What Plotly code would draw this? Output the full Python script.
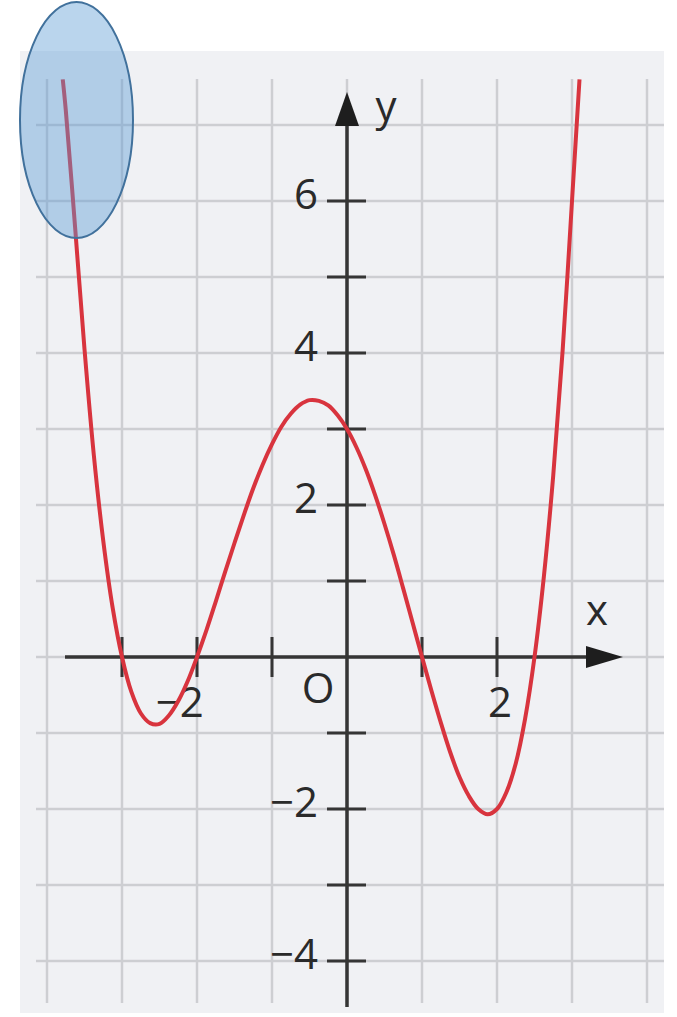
import plotly.graph_objects as go

# Curve samples (x, f(x))
curve_x = [-3.79, -3.75, -3.625, -3.5, -3.375, -3.25, -3.125, -3.0, -2.875, -2.75, -2.625,
           -2.5, -2.375, -2.25, -2.125, -2.0, -1.875, -1.75, -1.625, -1.5, -1.375, -1.25,
           -1.125, -1.0, -0.875, -0.75, -0.625, -0.5, -0.375, -0.25, -0.125, 0.0, 0.125,
           0.25, 0.375, 0.5, 0.625, 0.75, 0.875, 1.0, 1.125, 1.25, 1.375, 1.5, 1.625,
           1.75, 1.875, 2.0, 2.125, 2.25, 2.375, 2.5, 2.625, 2.75, 2.875, 3.0, 3.1]
curve_y = [7.6, 7.2, 5.65, 4.05, 2.65, 1.53, 0.65, 0.0, -0.46, -0.74, -0.87,
           -0.88, -0.77, -0.58, -0.32, 0.0, 0.35, 0.73, 1.12, 1.5, 1.87, 2.22,
           2.53, 2.8, 3.03, 3.2, 3.32, 3.38, 3.37, 3.31, 3.18, 3.0, 2.76,
           2.47, 2.13, 1.75, 1.34, 0.9, 0.45, 0.0, -0.44, -0.86, -1.25, -1.58, -1.83,
           -2.0, -2.07, -2.0, -1.78, -1.4, -0.81, 0.0, 1.06, 2.39, 4.03, 6.0, 7.6]

# Axis tick labels
y_tick_vals = [-4, -2, 2, 4, 6]
y_tick_text = ["\u22124", "\u22122", "2", "4", "6"]
x_tick_vals = [-2, 2]
x_tick_text = ["\u22122", "2"]
y_tick_marks = [-4, -3, -2, -1, 1, 2, 3, 4, 5, 6]
x_tick_marks = [-3, -2, -1, 1, 2]
grid_x = [-4, -3, -2, -1, 0, 1, 2, 3, 4]
grid_y = [-4, -3, -2, -1, 0, 1, 2, 3, 4, 5, 6, 7]

W, H = 677, 1017
OX, OY = 347, 657          # origin in pixels
SX, SY = 75.0, 76.0        # pixels per unit

x_range = [-OX / SX, (W - OX) / SX]
y_range = [(OY - H) / SY, OY / SY]

def px(p):
    return (p - OX) / SX

def py(p):
    return (OY - p) / SY

AX_COL = "#353535"
GRID_COL = "#cdced2"
TXT_COL = "#2a2a2a"
FONT = "Open Sans"

shapes = []
# grey sheet
shapes.append(dict(type="rect", layer="below", x0=px(20), x1=px(664), y0=py(51), y1=py(1013),
                   fillcolor="#f0f1f4", line=dict(width=0)))
# grid
for gx in grid_x:
    shapes.append(dict(type="line", layer="below", x0=gx, x1=gx, y0=py(1003), y1=py(79),
                       line=dict(color=GRID_COL, width=2.5)))
for gy in grid_y:
    shapes.append(dict(type="line", layer="below", x0=px(36), x1=px(664), y0=gy, y1=gy,
                       line=dict(color=GRID_COL, width=2.5)))
# axes
shapes.append(dict(type="line", layer="below", x0=0, x1=0, y0=py(1007), y1=py(122),
                   line=dict(color=AX_COL, width=3.5)))
shapes.append(dict(type="line", layer="below", x0=px(65), x1=px(590), y0=0, y1=0,
                   line=dict(color=AX_COL, width=3.5)))
# arrow heads
shapes.append(dict(type="path", layer="below",
                   path=f"M {px(335)} {py(126)} L {px(347)} {py(92)} L {px(359)} {py(126)} Z",
                   fillcolor="#1e1e1e", line=dict(width=0)))
shapes.append(dict(type="path", layer="below",
                   path=f"M {px(586)} {py(646)} L {px(623)} {py(657)} L {px(586)} {py(668)} Z",
                   fillcolor="#1e1e1e", line=dict(width=0)))
# tick marks
for t in y_tick_marks:
    shapes.append(dict(type="line", layer="below", x0=px(327), x1=px(366), y0=t, y1=t,
                       line=dict(color=AX_COL, width=3)))
for t in x_tick_marks:
    shapes.append(dict(type="line", layer="below", x0=t, x1=t, y0=py(637), y1=py(677),
                       line=dict(color=AX_COL, width=3)))
# highlight ellipse
shapes.append(dict(type="circle", layer="above", x0=px(20), x1=px(133), y0=py(238), y1=py(2),
                   fillcolor="rgba(91,155,213,0.42)", line=dict(color="#41719c", width=2)))

fig = go.Figure()

# y tick labels
fig.add_trace(go.Scatter(
    x=[px(318)] * len(y_tick_vals), y=[v + 3 / SY for v in y_tick_vals], text=y_tick_text,
    mode="text", textposition="middle left",
    textfont=dict(family=FONT, size=42, color=TXT_COL),
    hoverinfo="skip", showlegend=False, cliponaxis=False))
# x tick labels
fig.add_trace(go.Scatter(
    x=[v + px(500) - 2 + (0.0 if v > 0 else 0.05) for v in x_tick_vals],
    y=[py(706)] * len(x_tick_vals), text=x_tick_text, mode="text",
    textposition=["middle left", "middle center"],
    textfont=dict(family=FONT, size=42, color=TXT_COL),
    hoverinfo="skip", showlegend=False, cliponaxis=False))
# origin and axis names
fig.add_trace(go.Scatter(
    x=[px(318), px(597), px(386)], y=[py(692), py(614), py(110)], text=["O", "x", "y"],
    mode="text", textposition="middle center",
    textfont=dict(family=FONT, size=42, color=TXT_COL),
    hoverinfo="skip", showlegend=False, cliponaxis=False))

# function graph
fig.add_trace(go.Scatter(
    x=curve_x, y=curve_y, mode="lines", line=dict(color="#d8343e", width=4, shape="spline"),
    hoverinfo="skip", showlegend=False, cliponaxis=False))

fig.update_layout(
    width=W, height=H, margin=dict(l=0, r=0, t=0, b=0),
    paper_bgcolor="white", plot_bgcolor="white", shapes=shapes,
    xaxis=dict(range=x_range, visible=False, fixedrange=True),
    yaxis=dict(range=y_range, visible=False, fixedrange=True),
)

fig.write_html("out.html")
